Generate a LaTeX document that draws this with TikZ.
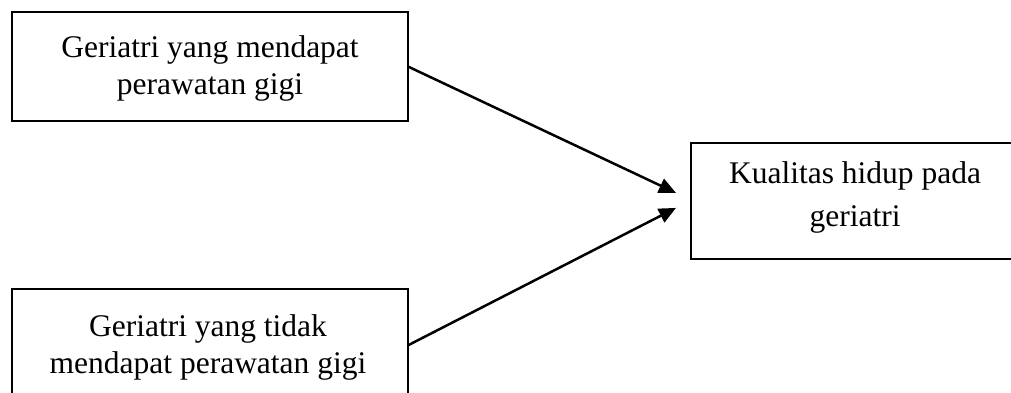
\documentclass[tikz,border=0pt]{standalone}
\usepackage{fontspec}
\setmainfont{Liberation Serif}
\usetikzlibrary{arrows.meta}
\begin{document}
\begin{tikzpicture}[x=1pt,y=-1pt,
  box/.style={draw, line width=1.8pt, inner sep=0pt, anchor=north west},
  lbl/.style={anchor=base, align=center, inner sep=0pt, font=\fontsize{31.5}{37}\selectfont},
  conn/.style={line width=2.5pt, -{Triangle[length=17pt,width=15pt]}}]
\useasboundingbox (0,0) rectangle (1011,392);
\clip (0,0) rectangle (1011,392);
\node[box, minimum width=396pt, minimum height=109pt] (a) at (11,11) {};
\node[box, minimum width=396pt, minimum height=109pt] (b) at (11,288) {};
\node[box, minimum width=330pt, minimum height=116pt] (c) at (690,142) {};
\node[lbl] (ta) at (210,94) {Geriatri yang mendapat\\perawatan gigi};
\node[lbl] (tb) at (208,373) {Geriatri yang tidak\\mendapat perawatan gigi};
\node[lbl, font=\fontsize{31.5}{43}\selectfont] (tc) at (855,226) {Kualitas hidup pada\\geriatri};
\coordinate (ea) at ([xshift=-14pt,yshift=8pt]c.west);
\coordinate (eb) at ([xshift=-14pt,yshift=-7pt]c.west);
\draw[conn] ([yshift=-0.5pt]a.east) -- (ea);
\draw[conn] ([yshift=-1.5pt]b.east) -- (eb);
\end{tikzpicture}
\end{document}
